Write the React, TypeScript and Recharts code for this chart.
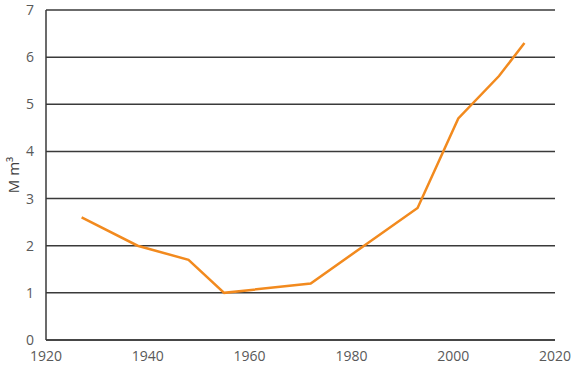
import { LineChart, Line, XAxis, YAxis, CartesianGrid } from "recharts";

const years = [1927, 1938, 1948, 1955, 1972, 1993, 2001, 2009, 2014];
const volumes = [2.6, 2.0, 1.7, 1.0, 1.2, 2.8, 4.7, 5.6, 6.3];
const xTicks = [1920, 1940, 1960, 1980, 2000, 2020];
const yTicks = [0, 1, 2, 3, 4, 5, 6, 7];

const data = years.map((year, i) => ({ year, value: volumes[i] }));

const tickStyle = { fontSize: 14, fill: "#595959", fontFamily: "Open Sans" };

export default function App() {
    return (
        <div style={{ position: "absolute", left: 0, top: 0 }}>
            <LineChart
                width={575}
                height={372}
                data={data}
                margin={{ top: 10, right: 20, left: 0, bottom: 0 }}
            >
                <CartesianGrid
                    vertical={false}
                    stroke="#3a3a3a"
                    strokeWidth={1.5}
                />
                <XAxis
                    dataKey="year"
                    type="number"
                    domain={[1920, 2020]}
                    ticks={xTicks}
                    height={32}
                    tick={tickStyle}
                    tickLine={false}
                    tickMargin={5}
                    axisLine={{ stroke: "#3a3a3a", strokeWidth: 1.5 }}
                />
                <YAxis
                    domain={[0, 7]}
                    ticks={yTicks}
                    width={46}
                    tick={tickStyle}
                    tickLine={false}
                    tickMargin={6}
                    axisLine={{ stroke: "#3a3a3a", strokeWidth: 1.5 }}
                    label={{
                        value: "M m³",
                        angle: -90,
                        position: "insideLeft",
                        offset: 14,
                        style: { fontSize: 15, fill: "#404040", fontFamily: "Open Sans", textAnchor: "middle" },
                    }}
                />
                <Line
                    type="linear"
                    dataKey="value"
                    stroke="#F28A1E"
                    strokeWidth={2.5}
                    dot={false}
                    isAnimationActive={false}
                />
            </LineChart>
        </div>
    );
}
